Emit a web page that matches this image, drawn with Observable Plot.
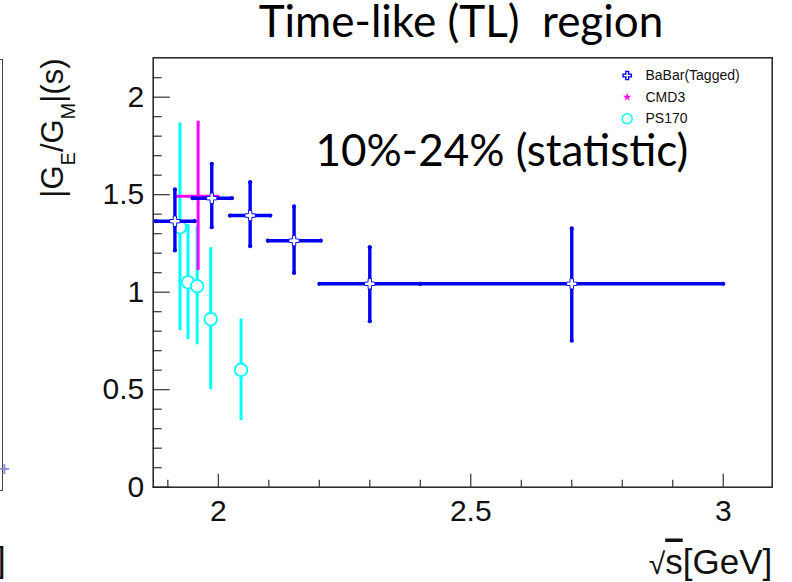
<!DOCTYPE html>
<html><head><meta charset="utf-8">
<script src="https://cdn.jsdelivr.net/npm/d3@7"></script>
<script src="https://cdn.jsdelivr.net/npm/@observablehq/plot@0.6"></script>
<style>
body{margin:0;background:#fff;}
#wrap{position:relative;width:792px;height:582px;overflow:hidden;background:#fff;}
#wrap svg text{white-space:pre;}
.frag{position:absolute;}
</style></head><body><div id="wrap"></div>
<script>
// ---- data ----
const seriesNames = ["BaBar(Tagged)", "CMD3", "PS170"];

const babarX   = [1.914, 1.987, 2.063, 2.150, 2.300, 2.700];
const babarXlo = [1.876, 1.949, 2.023, 2.098, 2.200, 2.400];
const babarXhi = [1.953, 2.027, 2.103, 2.203, 2.400, 3.000];
const babarY   = [1.364, 1.482, 1.393, 1.264, 1.043, 1.043];
const babarYlo = [1.214, 1.333, 1.236, 1.099, 0.851, 0.751];
const babarYhi = [1.527, 1.658, 1.564, 1.440, 1.231, 1.327];

const cmd3X   = [1.960];
const cmd3Xlo = [1.917];
const cmd3Xhi = [2.003];
const cmd3Y   = [1.492];
const cmd3Ylo = [1.111];
const cmd3Yhi = [1.877];

const ps170X   = [1.924, 1.940, 1.958, 1.985, 2.045];
const ps170Y   = [1.333, 1.051, 1.031, 0.862, 0.602];
const ps170Ylo = [0.804, 0.757, 0.730, 0.500, 0.341];
const ps170Yhi = [1.867, 1.347, 1.337, 1.228, 0.863];

const xTicks = [2, 2.5, 3];
const yTicks = [0, 0.5, 1, 1.5, 2];
const xMinor = [1.9, 2.1, 2.2, 2.3, 2.4, 2.6, 2.7, 2.8, 2.9];
const yMinor = [0.1,0.2,0.3,0.4,0.6,0.7,0.8,0.9,1.1,1.2,1.3,1.4,1.6,1.7,1.8,1.9,2.1];

const titleText = "Time-like (TL)  region";
const noteText = "10%-24% (statistic)";
const yLabelText = "|GE/GM|(s)";
const xLabelText = "√s[GeV]";

// ---- layout ----
const W = 792, H = 582, mL = 152.7, mR = 20.3, mT = 57.3, mB = 95.3;
const plotW = W - mL - mR, plotH = H - mT - mB;
const blue = "#0000f0", cyan = "#00ffff", magenta = "#ff00ff";
const sans = "Liberation Sans, Arial, Helvetica, sans-serif";
const slide = "Lato, 'Open Sans', sans-serif";

const babar = babarX.map((x, i) => ({x, xlo: babarXlo[i], xhi: babarXhi[i], y: babarY[i], ylo: babarYlo[i], yhi: babarYhi[i]}));
const cmd3 = cmd3X.map((x, i) => ({x, xlo: cmd3Xlo[i], xhi: cmd3Xhi[i], y: cmd3Y[i], ylo: cmd3Ylo[i], yhi: cmd3Yhi[i]}));
const ps170 = ps170X.map((x, i) => ({x, y: ps170Y[i], ylo: ps170Ylo[i], yhi: ps170Yhi[i]}));

const legendStyles = [
  {symbol: "cross", r: 3.5, fill: "white", stroke: blue, strokeWidth: 1.4},
  {symbol: "star", r: 2.6, fill: magenta, stroke: "none"},
  {symbol: "circle", r: 5, fill: "white", stroke: cyan, strokeWidth: 1.5}
];
const legendMarks = seriesNames.flatMap((name, i) => [
  Plot.dot([name], {frameAnchor: "top-right", dx: -145, dy: 17.7 + 21.65 * i, ...legendStyles[i]}),
  Plot.text([name], {frameAnchor: "top-right", dx: -126.7, dy: 17.7 + 21.65 * i, text: d => d,
    textAnchor: "start", lineAnchor: "middle", fontSize: 14, fontFamily: sans, fill: "#111"})
]);

const tickStyle = {stroke: "#333", strokeWidth: 1.2};

const chart = Plot.plot({
  width: W, height: H,
  marginLeft: mL, marginRight: mR, marginTop: mT, marginBottom: mB,
  style: {background: "white", fontFamily: sans, overflow: "visible"},
  x: {domain: [1.871, 3.097]},
  y: {domain: [0, 2.202]},
  marks: [
    Plot.tickY(yMinor, {y: d => d, insetRight: plotW - 9, ...tickStyle}),
    Plot.tickY(yTicks, {y: d => d, insetRight: plotW - 17, ...tickStyle}),
    Plot.tickX(xMinor, {x: d => d, insetTop: plotH - 7, ...tickStyle}),
    Plot.tickX(xTicks, {x: d => d, insetTop: plotH - 13, ...tickStyle}),
    Plot.axisX({ticks: xTicks, tickFormat: d => String(d), tickSize: 0, tickPadding: 12, fontSize: 30, fontFamily: sans, label: null, fill: "#111"}),
    Plot.axisY({ticks: yTicks, tickFormat: d => String(d), tickSize: 0, tickPadding: 9, fontSize: 30, fontFamily: sans, label: null, fill: "#111"}),
    Plot.frame({stroke: "#222", strokeWidth: 1.5}),
    // PS170
    Plot.ruleX(ps170, {x: "x", y1: "ylo", y2: "yhi", stroke: cyan, strokeWidth: 3}),
    Plot.dot(ps170, {x: "x", y: "y", r: 6.3, fill: "white", stroke: cyan, strokeWidth: 1.8}),
    // CMD3
    Plot.ruleY(cmd3, {y: "y", x1: "xlo", x2: "xhi", stroke: magenta, strokeWidth: 3}),
    Plot.ruleX(cmd3, {x: "x", y1: "ylo", y2: "yhi", stroke: magenta, strokeWidth: 3}),
    Plot.dot(cmd3, {x: "x", y: "y", symbol: "star", r: 2.5, fill: magenta}),
    // BaBar
    Plot.ruleY(babar, {y: "y", x1: "xlo", x2: "xhi", stroke: blue, strokeWidth: 3.4}),
    Plot.ruleX(babar, {x: "x", y1: "ylo", y2: "yhi", stroke: blue, strokeWidth: 3.4}),
    Plot.dot(babar, {x: "xlo", y: "y", r: 2.1, fill: blue}),
    Plot.dot(babar, {x: "xhi", y: "y", r: 2.1, fill: blue}),
    Plot.dot(babar, {x: "x", y: "ylo", r: 2.1, fill: blue}),
    Plot.dot(babar, {x: "x", y: "yhi", r: 2.1, fill: blue}),
    Plot.dot(babar, {x: "x", y: "y", symbol: "cross", r: 4.3, fill: "white", stroke: blue, strokeWidth: 0.9}),
    // legend
    ...legendMarks,
    // texts
    Plot.text([titleText], {frameAnchor: "top", dx: -1.7, dy: -20.6, text: d => d, lineAnchor: "bottom",
      fontSize: 44, fontFamily: slide, fill: "#000"}),
    Plot.text([noteText], {frameAnchor: "top-left", dx: 162.3, dy: 107.7, text: d => d, textAnchor: "start",
      lineAnchor: "bottom", fontSize: 44, fontFamily: slide, fill: "#000"}),
    Plot.text([yLabelText], {frameAnchor: "top-left", dx: -90.7, dy: 0.7, rotate: -90, text: d => d,
      textAnchor: "end", lineAnchor: "bottom", fontSize: 31, fontFamily: sans, fill: "#111"}),
    Plot.text([xLabelText], {frameAnchor: "bottom-right", dx: 0, dy: 86.3, text: d => d,
      textAnchor: "end", lineAnchor: "bottom", fontSize: 35, fontFamily: sans, fill: "#111"})
  ]
});

// rich text: subscripts in y label, radical overline in x label
d3.select(chart).selectAll("text").filter(function() { return this.textContent === yLabelText; })
  .each(function() {
    const t = d3.select(this).text(null);
    t.append("tspan").text("|G");
    t.append("tspan").attr("dy", 12).attr("font-size", 20).text("E");
    t.append("tspan").attr("dy", -12).text("/G");
    t.append("tspan").attr("dy", 12).attr("font-size", 20).text("M");
    t.append("tspan").attr("dy", -12).text("|(s)");
  });
d3.select(chart).selectAll("text").filter(function() { return this.textContent === xLabelText; })
  .each(function() {
    const t = d3.select(this).text(null);
    t.append("tspan").attr("font-size", 30).text("√");
    t.append("tspan").style("text-decoration", "overline").text("s");
    t.append("tspan").text("[GeV]");
  });

const wrap = document.getElementById("wrap");
wrap.appendChild(chart);
chart.style.position = "absolute"; chart.style.left = "0"; chart.style.top = "0";

// cropped edge of the neighbouring panel
const frag = document.createElement("div");
frag.className = "frag";
Object.assign(frag.style, {left: "-12px", top: "59px", width: "14px", height: "430px",
  borderRight: "1.5px solid #444", borderTop: "1.5px solid #444", borderBottom: "1.5px solid #444"});
wrap.appendChild(frag);
const fragPt = document.createElement("div");
fragPt.className = "frag";
fragPt.textContent = "+";
Object.assign(fragPt.style, {left: "-2px", top: "460px", font: "bold 15px 'DejaVu Sans'", color: "#8a8ad0"});
wrap.appendChild(fragPt);
const fragTxt = document.createElement("div");
fragTxt.className = "frag";
fragTxt.textContent = "]";
Object.assign(fragTxt.style, {left: "-4px", top: "540px", font: "35px 'Liberation Sans'", color: "#111"});
wrap.appendChild(fragTxt);
</script></body></html>
